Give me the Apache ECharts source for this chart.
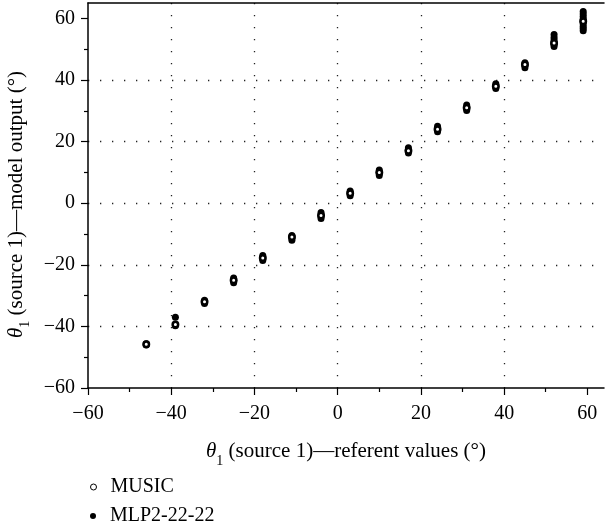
<!DOCTYPE html>
<html>
<head>
<meta charset="utf-8">
<script src="https://cdn.jsdelivr.net/npm/echarts@6/dist/echarts.min.js"></script>
<style>
  html, body { margin: 0; padding: 0; background: #fff; }
  #chart { width: 605px; height: 527px; }
</style>
</head>
<body>
<div id="chart"></div>
<script>
  // referent angles (source 1) and model outputs
  var refAngles = [-46, -39, -32, -25, -18, -11, -4, 3, 10, 17, 24, 31, 38, 45, 52, 59];
  var musicOut = [-45.8, -39.4, -32.0, -25.0, -17.8, -11.0, -4.0, 3.2, 10.0, 17.0, 24.0, 31.0, 38.0, 45.0, 52.0, 59.1];
  var mlpOut = [
    [-45.6, -46.0],
    [-37.0, -39.8],
    [-31.5, -32.0, -32.6],
    [-24.3, -25.0, -25.8],
    [-17.0, -17.8, -18.6],
    [-10.5, -11.2, -12.0],
    [-3.0, -4.0, -5.0],
    [4.0, 3.2, 2.4],
    [10.8, 10.0, 9.0],
    [18.0, 17.2, 16.3],
    [25.0, 24.1, 23.2],
    [31.9, 31.0, 30.1],
    [38.8, 38.0, 37.2],
    [45.6, 44.8, 44.0],
    [54.8, 53.8, 53.0, 52.0, 51.5, 50.9],
    [62.2, 61.4, 60.6, 59.8, 59.0, 58.2, 57.4, 56.7, 56.0]
  ];
  var majorTicks = [-60, -40, -20, 0, 20, 40, 60];
  var minorTicks = [-50, -30, -10, 10, 30, 50];

  var font = '"Liberation Serif", "DejaVu Serif", serif';

  var musicData = refAngles.map(function (a, i) { return [a, musicOut[i]]; });
  var mlpData = [];
  refAngles.forEach(function (a, i) {
    mlpOut[i].forEach(function (v) { mlpData.push([a, v]); });
  });

  function fmt(v) {
    return String(v).replace('-', '\u2212');
  }

  function nameStyle(pad) {
    return {
      fontFamily: font,
      fontSize: 21,
      color: '#000',
      padding: pad,
      rich: {
        it: { fontFamily: font, fontSize: 21, fontStyle: 'italic', color: '#000' },
        sub: { fontFamily: font, fontSize: 14, color: '#000', verticalAlign: 'bottom', padding: [0, 0, -6, 0] },
        t: { fontFamily: font, fontSize: 21, color: '#000' }
      }
    };
  }

  var gridLine = {
    show: true,
    showMinLine: false,
    showMaxLine: false,
    lineStyle: { color: '#222', width: 1.3, type: [1.3, 10.7] }
  };

  function majorAxis(min, max, extra) {
    return Object.assign({
      type: 'value',
      min: min,
      max: max,
      interval: 20,
      axisLine: { show: true, onZero: false, lineStyle: { color: '#000', width: 1.5 } },
      axisTick: { show: true, customValues: majorTicks, length: 7, lineStyle: { color: '#000', width: 1.2 } },
      splitLine: gridLine
    }, extra);
  }

  function minorAxis(min, max, pos) {
    return {
      type: 'value',
      position: pos,
      min: min,
      max: max,
      interval: 20,
      axisLine: { show: false, onZero: false },
      axisTick: { show: true, customValues: minorTicks, length: 4, lineStyle: { color: '#000', width: 1.2 } },
      axisLabel: { show: false },
      splitLine: { show: false }
    };
  }

  function legendFor(name, top) {
    return {
      orient: 'vertical',
      left: 85,
      top: top,
      itemWidth: 6,
      itemHeight: 6,
      data: [name],
      itemStyle: { borderWidth: 1 },
      textStyle: { fontFamily: font, fontSize: 20, color: '#000', padding: [0, 0, 0, 9] }
    };
  }

  var chart = echarts.init(document.getElementById('chart'));
  chart.setOption({
    backgroundColor: '#fff',
    animation: false,
    grid: { left: 88, right: 1, top: 3, bottom: 139, containLabel: false, outerBoundsMode: 'none' },
    legend: [
      legendFor('MUSIC', 472),
      legendFor('MLP2-22-22', 501)
    ],
    xAxis: [
      majorAxis(-60, 64, {
        position: 'bottom',
        name: '{it|θ}{sub|1}{t| (source 1)—referent values (°)}',
        nameLocation: 'middle',
        nameGap: 53,
        nameTextStyle: nameStyle(0),
        axisLabel: {
          customValues: majorTicks,
          formatter: fmt,
          fontFamily: font,
          fontSize: 20,
          color: '#000',
          margin: 16
        }
      }),
      minorAxis(-60, 64, 'bottom'),
      {
        type: 'value',
        position: 'top',
        min: -60,
        max: 64,
        axisLine: { show: true, onZero: false, lineStyle: { color: '#000', width: 1.5 } },
        axisTick: { show: false },
        axisLabel: { show: false },
        splitLine: { show: false }
      }
    ],
    yAxis: [
      majorAxis(-60, 65, {
        position: 'left',
        name: '{it|θ}{sub|1}{t| (source 1)—model output (°)}',
        nameLocation: 'middle',
        nameRotate: 90,
        nameGap: 59,
        nameTextStyle: nameStyle([0, 18, 0, 0]),
        axisLabel: {
          customValues: majorTicks,
          formatter: fmt,
          fontFamily: font,
          fontSize: 20,
          color: '#000',
          margin: 13
        }
      }),
      minorAxis(-60, 65, 'left')
    ],
    series: [
      {
        name: 'MLP2-22-22',
        type: 'scatter',
        z: 2,
        symbol: 'circle',
        symbolSize: 7,
        itemStyle: { color: '#000', opacity: 1 },
        data: mlpData
      },
      {
        name: 'MUSIC',
        type: 'scatter',
        z: 3,
        symbol: 'circle',
        symbolSize: 5.5,
        itemStyle: { color: '#fff', borderColor: '#000', borderWidth: 2.5, opacity: 1 },
        data: musicData
      }
    ]
  });
</script>
</body>
</html>
